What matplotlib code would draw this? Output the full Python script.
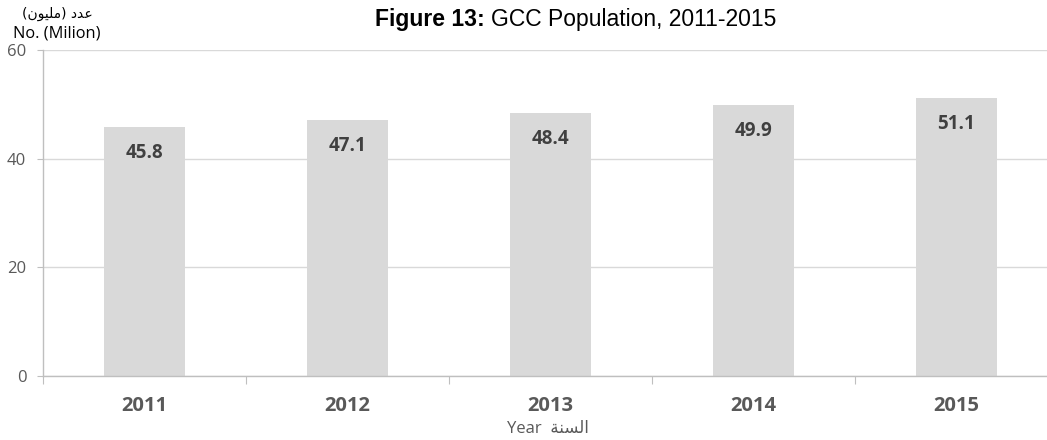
import matplotlib
matplotlib.use('Agg')
import matplotlib.pyplot as plt

# data
years = ['2011', '2012', '2013', '2014', '2015']
population = [45.8, 47.1, 48.4, 49.9, 51.1]
y_ticks = [0, 20, 40, 60]

# Arabic text in visual order (presentation forms)
ar_count = '(\uFEE5\uFEEE\uFEF4\uFEE0\uFEE3) \uFEA9\uFEAA\uFECB'
ar_year = '\uFE94\uFEE8\uFEB4\uFEDF\uFE8D'

fam = ['Open Sans', 'DejaVu Sans']
gray_txt = '#595959'

fig = plt.figure(figsize=(10.47, 4.4), dpi=100)
ax = fig.add_axes([43 / 1047, 1 - 376 / 440, 1015 / 1047, 326 / 440])

x = list(range(len(years)))
ax.bar(x, population, width=0.4, color='#D9D9D9', zorder=2)

for xi, v in zip(x, population):
    ax.annotate(f'{v:.1f}', (xi, v), xytext=(0, -26), textcoords='offset pixels',
                ha='center', va='center', fontsize=13.5, fontweight='bold',
                color='#404040', family=fam, zorder=3)

ax.set_xlim(-0.5, len(years) - 0.5)
ax.set_ylim(0, 60)
ax.set_yticks(y_ticks)
ax.set_yticklabels([str(t) for t in y_ticks], fontsize=12, color=gray_txt, family=fam)
ax.tick_params(axis='y', length=4, color='#BFBFBF', pad=8)
ax.yaxis.grid(True, color='#D9D9D9', linewidth=1, zorder=0)

# boundary ticks (major) and centred labels (minor)
ax.set_xticks([i - 0.5 for i in range(len(years) + 1)])
ax.set_xticklabels([])
ax.set_xticks(x, minor=True)
ax.set_xticklabels(years, minor=True, fontsize=14.5, fontweight='bold', color=gray_txt, family=fam)
ax.tick_params(axis='x', which='major', length=6, color='#BFBFBF')
ax.tick_params(axis='x', which='minor', length=0, pad=14.5)

for s in ['top', 'right']:
    ax.spines[s].set_visible(False)
for s in ['left', 'bottom']:
    ax.spines[s].set_color('#BFBFBF')
    ax.spines[s].set_linewidth(1)

# axis labels
fig.text(57 / 1047, 1 - 14 / 440, ar_count, ha='center', va='center', fontsize=10,
         family=['DejaVu Sans'], color='black')
fig.text(57 / 1047, 1 - 33 / 440, 'No. (Milion)', ha='center', va='center', fontsize=11.8,
         family=fam, color='black')
fig.text(548 / 1047, 1 - 429 / 440, 'Year  ' + ar_year, ha='center', va='center', fontsize=12,
         family=fam, color=gray_txt)

# title: bold prefix + regular rest
ty = 1 - 26 / 440
t1 = fig.text(375 / 1047, ty, 'Figure 13:', ha='left', va='baseline', fontsize=16.5,
              fontweight='bold', family='Liberation Sans')
fig.canvas.draw()
bb = t1.get_window_extent()
fig.text((bb.x1 + 6) / 1047, ty, 'GCC Population, 2011-2015', ha='left', va='baseline',
         fontsize=16.5, family='Liberation Sans')

fig.savefig('out.png', dpi=100)
